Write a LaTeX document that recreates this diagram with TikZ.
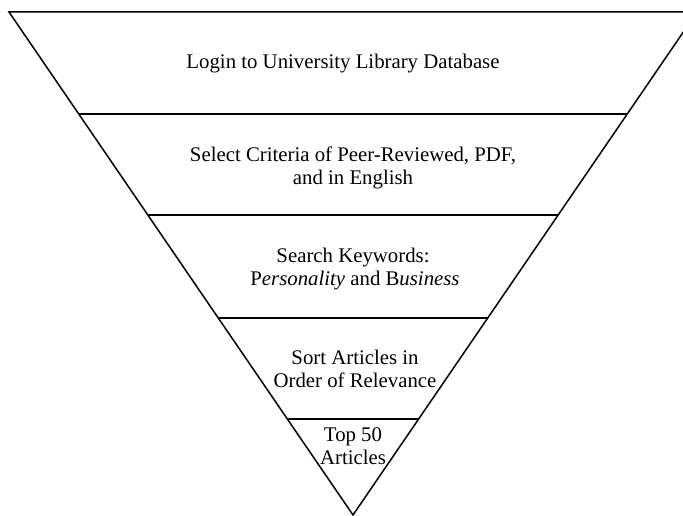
\documentclass[tikz,border=0pt]{standalone}
\usepackage{fontspec}
\setmainfont{Liberation Serif}
\usetikzlibrary{calc}
\begin{document}
\begin{tikzpicture}[x=1pt,y=-1pt,
  edge/.style={line width=1.5pt, line join=miter},
  sep/.style={line width=1.5pt},
  label/.style={anchor=base, inner sep=0pt, font=\fontsize{20.8}{23}\selectfont}]
\useasboundingbox (0,0) rectangle (683,516);
\clip (0,0) rectangle (683,516);
\coordinate (TL) at (9,12);
\coordinate (TR) at (697,12);
\coordinate (A) at (353,515);
\draw[edge] (TL) -- (TR) -- (A) -- cycle;
\foreach \t/\n in {0.2028/1,0.4036/2,0.6083/3,0.8091/4}{
  \draw[sep] ($(TL)!\t!(A)$) coordinate (L\n) -- ($(TR)!\t!(A)$) coordinate (R\n);
}
\node[label] (s1) at (343,69) {Login to University Library Database};
\node[label] (s2a) at (353,161) {Select Criteria of Peer-Reviewed, PDF,};
\node[label] (s2b) at (353,185) {and in English};
\node[label] (s3a) at (353,262) {Search Keywords:};
\node[label] (s3b) at (355,285) {P\textit{ersonality} and B\textit{usiness}};
\node[label] (s4a) at (355,364) {Sort Articles in};
\node[label] (s4b) at (355,387) {Order of Relevance};
\node[label] (s5a) at (353,441) {Top 50};
\node[label] (s5b) at (353,464) {Articles};
\end{tikzpicture}
\end{document}
